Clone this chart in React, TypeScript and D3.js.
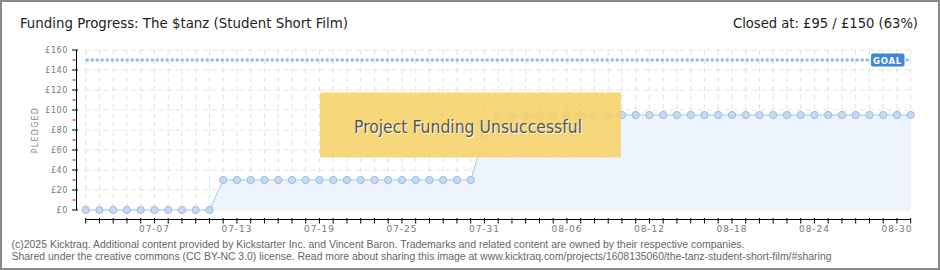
import React from "react";
import * as d3 from "d3";

const dates = [
  "2025-07-02","2025-07-03","2025-07-04","2025-07-05","2025-07-06","2025-07-07","2025-07-08","2025-07-09","2025-07-10","2025-07-11",
  "2025-07-12","2025-07-13","2025-07-14","2025-07-15","2025-07-16","2025-07-17","2025-07-18","2025-07-19","2025-07-20","2025-07-21",
  "2025-07-22","2025-07-23","2025-07-24","2025-07-25","2025-07-26","2025-07-27","2025-07-28","2025-07-29","2025-07-30","2025-07-31",
  "2025-08-01","2025-08-02","2025-08-03","2025-08-04","2025-08-05","2025-08-06","2025-08-07","2025-08-08","2025-08-09","2025-08-10",
  "2025-08-11","2025-08-12","2025-08-13","2025-08-14","2025-08-15","2025-08-16","2025-08-17","2025-08-18","2025-08-19","2025-08-20",
  "2025-08-21","2025-08-22","2025-08-23","2025-08-24","2025-08-25","2025-08-26","2025-08-27","2025-08-28","2025-08-29","2025-08-30",
  "2025-08-31",
];
const pledged = [
  0, 0, 0, 0, 0, 0, 0, 0, 0, 0,
  30, 30, 30, 30, 30, 30, 30, 30, 30, 30,
  30, 30, 30, 30, 30, 30, 30, 30, 30, 75,
  95, 95, 95, 95, 95, 95, 95, 95, 95, 95,
  95, 95, 95, 95, 95, 95, 95, 95, 95, 95,
  95, 95, 95, 95, 95, 95, 95, 95, 95, 95,
  95,
];
const xTickLabels = ["07-07", "07-13", "07-19", "07-25", "07-31", "08-06", "08-12", "08-18", "08-24", "08-30"];
const yMajorTicks = [0, 20, 40, 60, 80, 100, 120, 140, 160];
const yMinorTicks = [10, 30, 50, 70, 90, 110, 130, 150];
const goal = 150;
const titleText = "Funding Progress: The $tanz (Student Short Film)";
const closedText = "Closed at:  £95 / £150 (63%)";
const statusText = "Project Funding Unsuccessful";
const footer1 = "(c)2025 Kicktraq. Additional content provided by Kickstarter Inc. and Vincent Baron. Trademarks and related content are owned by their respective companies.";
const footer2 = "Shared under the creative commons (CC BY-NC 3.0) license. Read more about sharing this image at www.kicktraq.com/projects/1608135060/the-tanz-student-short-film/#sharing";

const parse = d3.utcParse("%Y-%m-%d");
const fmt = d3.utcFormat("%m-%d");

export default function App() {
  const W = 940, H = 270;
  const data = dates.map((d, i) => ({ date: parse(d) as Date, v: pledged[i] }));
  const x = d3.scaleUtc().domain([data[0].date, data[data.length - 1].date]).range([85.7, 910.7]);
  const y = d3.scaleLinear().domain([0, 160]).range([210, 50]);
  const area = d3.area<any>().x(d => x(d.date)).y0(y(0)).y1(d => y(d.v));
  const line = d3.line<any>().x(d => x(d.date)).y(d => y(d.v));
  const [x0, x1] = x.range();
  const axisY = 219.5;
  const tickFont = "'DejaVu Sans', sans-serif";
  const techFont = "'DejaVu Sans Condensed', 'DejaVu Sans', sans-serif";
  const labelDates = data.filter(d => xTickLabels.includes(fmt(d.date)));

  return (
    <svg width={W} height={H} style={{ position: "absolute", left: 0, top: 0, display: "block" }}>
      <defs>
        <pattern id="hatch" width="4" height="4" patternUnits="userSpaceOnUse" patternTransform="rotate(45)">
          <rect width="4" height="4" fill="#f7d36a" />
          <line x1="0" y1="0" x2="0" y2="4" stroke="#efc85a" strokeWidth="1" />
        </pattern>
      </defs>
      <rect x={1} y={1} width={W - 2} height={H - 2} fill="#fff" stroke="#8a8a8a" strokeWidth={2} />

      {/* grid */}
      {data.map((d, i) => (
        <line key={"vg" + i} x1={x(d.date)} x2={x(d.date)} y1={y(160)} y2={y(0)} stroke="#e3e3e3" strokeDasharray="5,4" />
      ))}
      {yMajorTicks.map(t => (
        <line key={"hg" + t} x1={x0} x2={x1} y1={y(t)} y2={y(t)} stroke="#e3e3e3" strokeDasharray="5,4" />
      ))}

      {/* area + line */}
      <path d={area(data) || ""} fill="#edf4fd" />
      <path d={line(data) || ""} fill="none" stroke="#a6c7ee" strokeWidth={1} />

      {/* goal line */}
      <line x1={x0} x2={x1} y1={y(goal)} y2={y(goal)} stroke="#93b8e2" strokeWidth={3} strokeDasharray="3,2" />

      {/* points */}
      {data.map((d, i) => (
        <circle key={"p" + i} cx={x(d.date)} cy={y(d.v)} r={3.6} fill="#c4dbf6" stroke="#9db9dc" strokeWidth={1} />
      ))}

      {/* goal label */}
      <rect x={871} y={53.5} width={33.5} height={13} rx={2} fill="#3b88d9" />
      <text x={887.5} y={63.5} textAnchor="middle" fill="#fff" fontFamily={tickFont} fontSize={8.5} fontWeight="bold" letterSpacing={0.8}>GOAL</text>

      {/* y axis */}
      <line x1={76.5} x2={76.5} y1={y(160)} y2={y(0)} stroke="#000" strokeWidth={1} />
      {yMajorTicks.map(t => (
        <g key={"yt" + t}>
          <line x1={72} x2={78} y1={y(t)} y2={y(t)} stroke="#000" />
          <text x={68} y={y(t) + 3} textAnchor="end" fill="#777" fontFamily={tickFont} fontSize={8} letterSpacing={0.6}>{"£" + t}</text>
        </g>
      ))}
      {yMinorTicks.map(t => (
        <line key={"ym" + t} x1={72.5} x2={75.5} y1={y(t)} y2={y(t)} stroke="#e00000" />
      ))}
      <text transform="translate(38,130) rotate(-90)" textAnchor="middle" fill="#888" fontFamily={tickFont} fontSize={8} letterSpacing={1.2}>PLEDGED</text>

      {/* x axis */}
      <line x1={x0} x2={x1} y1={axisY} y2={axisY} stroke="#000" />
      {data.map((d, i) => (
        <line key={"xt" + i} x1={x(d.date)} x2={x(d.date)} y1={218} y2={223.5} stroke="#000" />
      ))}
      {labelDates.map((d, i) => (
        <text key={"xl" + i} x={x(d.date)} y={232} textAnchor="middle" fill="#777" fontFamily={tickFont} fontSize={9} letterSpacing={0.9}>{fmt(d.date)}</text>
      ))}

      {/* unsuccessful box */}
      <rect x={320} y={92.5} width={301} height={65} fill="url(#hatch)" opacity={0.88} />
      <text x={469} y={134} textAnchor="middle" fill="#fff" fontFamily={techFont} fontSize={18} textLength={228} lengthAdjust="spacingAndGlyphs">{statusText}</text>
      <text x={468} y={133} textAnchor="middle" fill="#555" fontFamily={techFont} fontSize={18} textLength={228} lengthAdjust="spacingAndGlyphs">{statusText}</text>

      {/* titles */}
      <text x={20} y={28} fill="#222" fontFamily={techFont} fontSize={14} textLength={328} lengthAdjust="spacingAndGlyphs">{titleText}</text>
      <text x={918} y={28} textAnchor="end" fill="#222" fontFamily={techFont} fontSize={14} textLength={185} lengthAdjust="spacingAndGlyphs">{closedText}</text>

      {/* footer */}
      <text x={11.5} y={247.5} fill="#666" fontFamily="'Liberation Sans', Arial, sans-serif" fontSize={10.5} textLength={733} lengthAdjust="spacingAndGlyphs">{footer1}</text>
      <text x={11.5} y={259.5} fill="#666" fontFamily="'Liberation Sans', Arial, sans-serif" fontSize={10.5} textLength={820} lengthAdjust="spacingAndGlyphs">{footer2}</text>
    </svg>
  );
}
